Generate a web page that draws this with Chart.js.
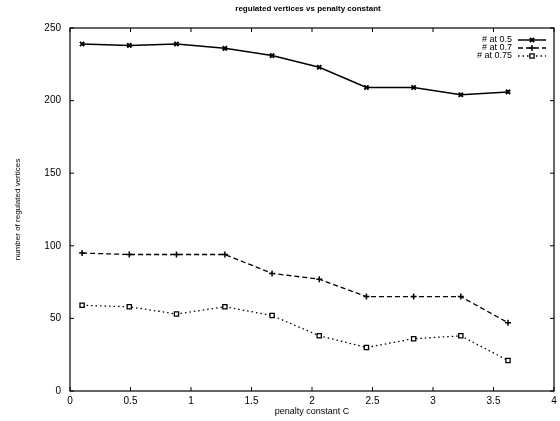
<!DOCTYPE html>
<html>
<head>
<meta charset="utf-8">
<script src="https://cdn.jsdelivr.net/npm/chart.js@4/dist/chart.umd.min.js"></script>
<style>
html,body{margin:0;padding:0;background:#fff;}
#wrap{width:560px;height:421px;}
</style>
</head>
<body>
<div id="wrap"><canvas id="c" width="560" height="421"></canvas></div>
<script>
// Data
const penaltyC = [0.1, 0.49, 0.88, 1.28, 1.67, 2.06, 2.45, 2.84, 3.23, 3.62];
const at05  = [239, 238, 239, 236, 231, 223, 209, 209, 204, 206];
const at07  = [95, 94, 94, 94, 81, 77, 65, 65, 65, 47];
const at075 = [59, 58, 53, 58, 52, 38, 30, 36, 38, 21];
const seriesNames = ['# at 0.5', '# at 0.7', '# at 0.75'];
const xTicks = [0, 0.5, 1, 1.5, 2, 2.5, 3, 3.5, 4];
const yTicks = [0, 50, 100, 150, 200, 250];
const chartTitle = 'regulated vertices vs penalty constant';
const xTitle = 'penalty constant C';
const yTitle = 'number of regulated vertices';

const FONT = 'Liberation Sans, Arial, sans-serif';
const pts = arr => penaltyC.map((x, i) => ({x: x, y: arr[i]}));

const framePlugin = {
  id: 'frame',
  afterDatasetsDraw(chart) {
    const ctx = chart.ctx, a = chart.chartArea;
    const xs = chart.scales.x, ys = chart.scales.y;
    ctx.save();
    ctx.strokeStyle = '#000';
    ctx.lineWidth = 1.2;
    ctx.strokeRect(a.left, a.top, a.right - a.left, a.bottom - a.top);
    ctx.lineWidth = 1;
    ctx.beginPath();
    xTicks.forEach(v => {
      const px = xs.getPixelForValue(v);
      ctx.moveTo(px, a.bottom); ctx.lineTo(px, a.bottom - 4);
      ctx.moveTo(px, a.top); ctx.lineTo(px, a.top + 4);
    });
    yTicks.forEach(v => {
      const py = ys.getPixelForValue(v);
      ctx.moveTo(a.left, py); ctx.lineTo(a.left + 4, py);
      ctx.moveTo(a.right, py); ctx.lineTo(a.right - 4, py);
    });
    ctx.stroke();
    // title
    ctx.fillStyle = '#000';
    ctx.font = 'bold 8px ' + FONT;
    ctx.textAlign = 'center';
    ctx.textBaseline = 'middle';
    ctx.fillText(chartTitle, (a.left + a.right) / 2 - 4, 9);
    // legend
    ctx.font = '9px ' + FONT;
    ctx.textAlign = 'right';
    const rowsY = [40, 48, 56];
    chart.data.datasets.forEach((ds, i) => {
      const y = rowsY[i];
      ctx.fillStyle = '#000';
      ctx.fillText(ds.label, 512, y);
      ctx.save();
      ctx.setLineDash(ds.borderDash || []);
      ctx.strokeStyle = '#000';
      ctx.lineWidth = ds.borderWidth;
      ctx.beginPath(); ctx.moveTo(518, y); ctx.lineTo(546, y); ctx.stroke();
      ctx.setLineDash([]);
      ctx.fillStyle = ds.backgroundColor;
      ctx.lineWidth = ds.pointBorderWidth;
      Chart.helpers.drawPoint(ctx, {pointStyle: ds.pointStyle, radius: ds.pointRadius, borderWidth: ds.pointBorderWidth}, 532, y);
      ctx.restore();
    });
    ctx.restore();
  }
};

new Chart(document.getElementById('c'), {
  type: 'line',
  data: {
    datasets: [
      {label: seriesNames[0], data: pts(at05), borderColor: '#000', backgroundColor: '#000',
       borderWidth: 1.5, pointStyle: 'crossRot', pointRadius: 3, pointBorderWidth: 2, tension: 0},
      {label: seriesNames[1], data: pts(at07), borderColor: '#000', backgroundColor: '#000',
       borderWidth: 1.3, borderDash: [5, 3], pointStyle: 'cross', pointRadius: 3, pointBorderWidth: 1.5, tension: 0},
      {label: seriesNames[2], data: pts(at075), borderColor: '#000', backgroundColor: '#fff',
       borderWidth: 1.3, borderDash: [1.5, 3], pointStyle: 'rect', pointRadius: 3, pointBorderWidth: 1.3, tension: 0}
    ]
  },
  options: {
    responsive: false,
    animation: false,
    devicePixelRatio: 1,
    layout: {padding: {top: 28, right: 0, left: 0, bottom: 0}},
    plugins: {legend: {display: false}, title: {display: false}, tooltip: {enabled: false}},
    scales: {
      x: {
        type: 'linear', min: 0, max: 4,
        afterFit: s => { s.height = 30; s.paddingLeft = 0; s.paddingRight = 0; },
        afterBuildTicks: s => { s.ticks = xTicks.map(v => ({value: v})); },
        grid: {display: false, drawTicks: false},
        border: {display: false},
        ticks: {color: '#000', padding: 4, font: {family: FONT, size: 10},
                callback: v => String(v)},
        title: {display: true, text: xTitle, color: '#000', padding: {top: 0, bottom: 4},
                font: {family: FONT, size: 9}}
      },
      y: {
        type: 'linear', min: 0, max: 250,
        afterFit: s => { s.width = 70; s.paddingTop = 0; s.paddingBottom = 0; },
        afterBuildTicks: s => { s.ticks = yTicks.map(v => ({value: v})); },
        grid: {display: false, drawTicks: false},
        border: {display: false},
        ticks: {color: '#000', padding: 9, font: {family: FONT, size: 10},
                callback: v => String(v)},
        title: {display: true, text: yTitle, color: '#000', padding: {top: 13, bottom: 8},
                font: {family: FONT, size: 8}}
      }
    }
  },
  plugins: [framePlugin]
});
</script>
</body>
</html>
